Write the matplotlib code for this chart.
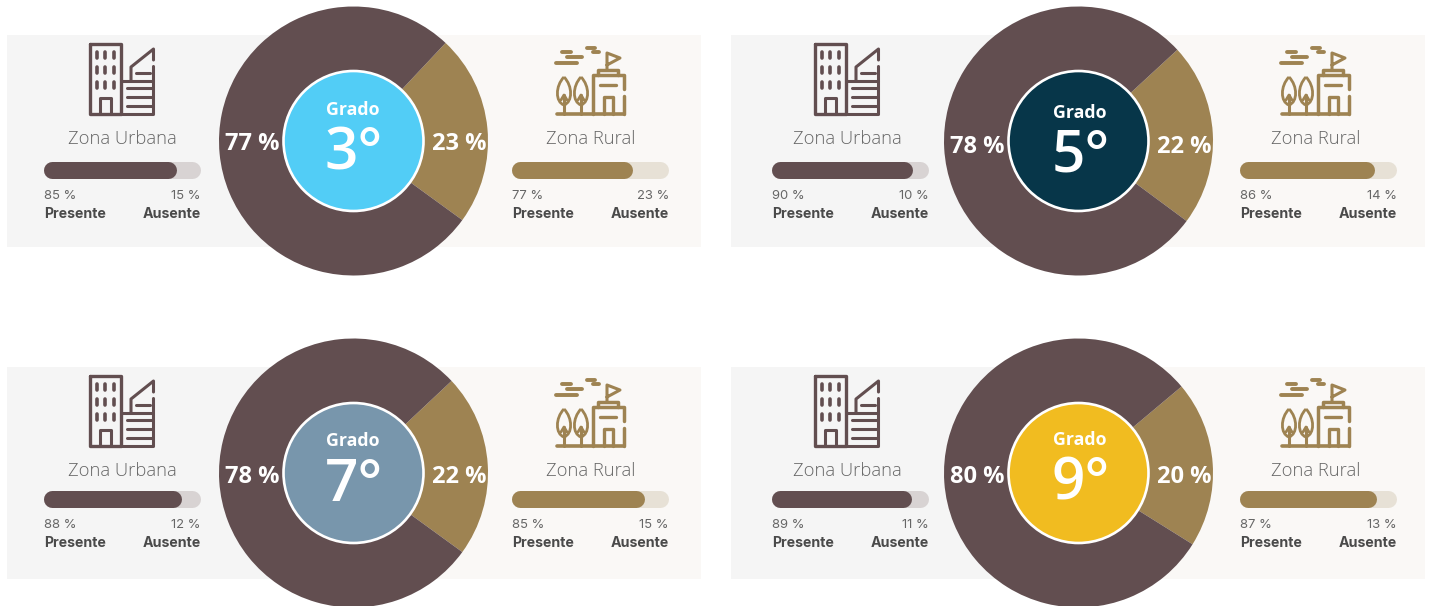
import matplotlib
matplotlib.use("Agg")
import matplotlib.pyplot as plt
from matplotlib.patches import Rectangle, Circle, PathPatch
from matplotlib.path import Path

# ---- data ----
grades = ["3°", "5°", "7°", "9°"]
urban_share = [77, 78, 78, 80]
rural_share = [23, 22, 22, 20]
urban_present = [85, 90, 88, 89]
rural_present = [77, 86, 85, 87]

grade_colors = ["#52CDF6", "#073649", "#7896AC", "#F1BC20"]
BROWN, GOLD = "#624E50", "#9E8352"
BROWN_T, GOLD_T = "#D8D3D3", "#E7E1D6"
PANEL_L, PANEL_R = "#F5F5F5", "#FAF8F6"
GREY, DARK = "#666666", "#4A4A4A"

W, H = 1429, 606
fig = plt.figure(figsize=(W / 100, H / 100), dpi=100)
ax = fig.add_axes([0, 0, 1, 1])


def Y(y):
    return H - y


# ---- layout per panel ----
off_x = [0, 725, 0, 725]
off_y = [0, 0, 332, 332]
bar_dx = [0, 728, 0, 728]
cx_list = [353, 1078, 353, 1078]
cy_list = [141, 141, 473, 473]
start = [-36, -36.5, -36, -32]
grado_y = [110, 113.5, 441, 440]
big_y = [155, 156, 486, 485]
pct_y = [144, 147, 477, 477]


def stroke(points, color, ox, oy, lw=2.1, closed=False):
    xs = [p[0] + ox for p in points]
    ys = [Y(p[1] + oy) for p in points]
    if closed:
        xs.append(xs[0])
        ys.append(ys[0])
    ax.plot(xs, ys, color=color, lw=lw, solid_capstyle="round",
            solid_joinstyle="round", zorder=3)


def urban_icon(ox, oy):
    c = BROWN
    stroke([(90, 44), (121, 44), (121, 114), (90, 114)], c, ox, oy, 2.4, True)
    for x in (97, 105.5, 114):
        for y in (52, 67, 82):
            stroke([(x, y), (x, y + 6)], c, ox, oy, 2.6)
    stroke([(100, 114), (100, 98), (111, 98), (111, 114)], c, ox, oy, 2.2)
    stroke([(121, 81), (153.5, 81), (153.5, 114), (121, 114)], c, ox, oy, 2.2)
    for y in (88, 97, 106):
        stroke([(127, y), (152, y)], c, ox, oy, 2.2)
    stroke([(131, 81), (131, 67), (153.5, 49), (153.5, 60)], c, ox, oy, 2.2)
    stroke([(153.5, 66), (153.5, 81)], c, ox, oy, 2.2)
    stroke([(153.5, 63), (153.5, 63.2)], c, ox, oy, 2.0)
    stroke([(136, 73), (150, 73)], c, ox, oy, 2.2)


def leaf(cx, ox, oy):
    top, bot, hw = 77, 105, 8.8
    verts = [(cx, top), (cx + hw, top + 9), (cx + hw, bot - 3), (cx, bot),
             (cx - hw, bot - 3), (cx - hw, top + 9), (cx, top)]
    v = [(x + ox, Y(y + oy)) for x, y in verts]
    codes = [Path.MOVETO, Path.CURVE4, Path.CURVE4, Path.CURVE4,
             Path.CURVE4, Path.CURVE4, Path.CURVE4]
    ax.add_patch(PathPatch(Path(v, codes), fc="none", ec=GOLD, lw=2.0, zorder=3))
    stroke([(cx, 95), (cx, 114)], GOLD, ox, oy, 2.2)
    stroke([(cx - 3, 100), (cx, 95), (cx + 3, 100)], GOLD, ox, oy, 2.0)


def rural_icon(ox, oy):
    c = GOLD
    stroke([(557, 114), (624, 114)], c, ox, oy, 2.6)
    leaf(564, ox, oy)
    leaf(581, ox, oy)
    stroke([(593, 114), (593, 75), (624, 75), (624, 89)], c, ox, oy, 2.5)
    stroke([(624, 96), (624, 114)], c, ox, oy, 2.5)
    stroke([(624, 92), (624, 92.2)], c, ox, oy, 2.0)
    stroke([(598, 75), (598, 70), (618, 70), (618, 75)], c, ox, oy, 2.5)
    stroke([(607, 70), (607, 53), (620, 58), (607, 65)], c, ox, oy, 2.2)
    stroke([(604, 114), (604, 97), (613, 97), (613, 114)], c, ox, oy, 2.4)
    stroke([(600, 85), (616, 85)], c, ox, oy, 2.4)
    for a, b, y in [(562, 571, 52), (567, 582, 57), (556, 577, 63),
                    (587, 595, 48), (593, 599, 52)]:
        stroke([(a, y), (b, y)], c, ox, oy, 2.8)


def progress(x0, y, value, fg, bg):
    width, h = 157, 17
    lw = h * 0.72
    ax.plot([x0 + h / 2, x0 + width - h / 2], [Y(y)] * 2, color=bg, lw=lw,
            solid_capstyle="round", zorder=2)
    ax.plot([x0 + h / 2, x0 + width * value / 100 - h / 2 - 0.5], [Y(y)] * 2, color=fg,
            lw=lw, solid_capstyle="round", zorder=2.5)


def bar_text(x0, oy, value):
    xr = x0 + 157
    kw = dict(va="center", zorder=3)
    ax.text(x0, Y(196 + oy), f"{value} %", ha="left", fontsize=9.4, color=GREY,
            family="Inter", fontweight="normal", **kw)
    ax.text(xr, Y(196 + oy), f"{100 - value} %", ha="right", fontsize=9.4, color=GREY,
            family="Inter", fontweight="normal", **kw)
    ax.text(x0, Y(214 + oy), "Presente", ha="left", fontsize=10.2, color=DARK,
            family="Inter", fontweight="bold", **kw)
    ax.text(xr, Y(214 + oy), "Ausente", ha="right", fontsize=10.2, color=DARK,
            family="Inter", fontweight="bold", **kw)


for i, g in enumerate(grades):
    ox, oy, dx = off_x[i], off_y[i], bar_dx[i]
    cx, cy = cx_list[i], cy_list[i]
    shift = oy - (3 if oy else 0)
    # panels
    px = 7 + (724 if i % 2 else 0)
    ax.add_patch(Rectangle((px, Y(247 + oy)), 347, 212, fc=PANEL_L, ec="none", zorder=1))
    ax.add_patch(Rectangle((px + 347, Y(247 + oy)), 347, 212, fc=PANEL_R, ec="none", zorder=1))
    # icons and names
    urban_icon(ox, oy)
    rural_icon(ox, oy)
    ax.text(122 + ox, Y(138.5 + oy), "Zona Urbana", ha="center", va="center",
            fontsize=13.2, color=GREY, family="Open Sans", fontweight="light", zorder=3)
    ax.text(590.5 + ox, Y(138.5 + oy), "Zona Rural", ha="center", va="center",
            fontsize=13.2, color=GREY, family="Open Sans", fontweight="light", zorder=3)
    # bars
    progress(44 + dx, 170 + shift, urban_present[i], BROWN, BROWN_T)
    progress(512 + dx, 170 + shift, rural_present[i], GOLD, GOLD_T)
    bar_text(44 + dx, shift, urban_present[i])
    bar_text(512 + dx, shift, rural_present[i])
    # donut
    wedges, _ = ax.pie([rural_share[i], urban_share[i]], colors=[GOLD, BROWN],
                       center=(cx + 0.5, Y(cy)), radius=134.5, startangle=start[i],
                       counterclock=True, wedgeprops=dict(linewidth=0))
    for w in wedges:
        w.set_zorder(4)
    ax.add_patch(Circle((cx + 0.5, Y(cy)), 70, fc=grade_colors[i], ec="white", lw=1.9, zorder=5))
    ax.text(cx + (2 if i % 2 else 0), Y(grado_y[i]), "Grado", ha="center", va="center",
            color="white", fontsize=12.8, family="Open Sans", fontweight="bold", zorder=6)
    ax.text(cx + (3 if i % 2 else 1), Y(big_y[i]), g, ha="center", va="center",
            color="white", fontsize=42, family="Open Sans", fontweight="semibold", zorder=6)
    ax.text(cx - 101, Y(pct_y[i]), f"{urban_share[i]} %", ha="center", va="center",
            color="white", fontsize=17, family="Open Sans", fontweight="bold", zorder=6)
    ax.text(cx + 106, Y(pct_y[i]), f"{rural_share[i]} %", ha="center", va="center",
            color="white", fontsize=17, family="Open Sans", fontweight="bold", zorder=6)

ax.set_xlim(0, W)
ax.set_ylim(0, H)
ax.set_aspect("auto")
ax.axis("off")
fig.savefig("out.png", dpi=100, facecolor="white")
